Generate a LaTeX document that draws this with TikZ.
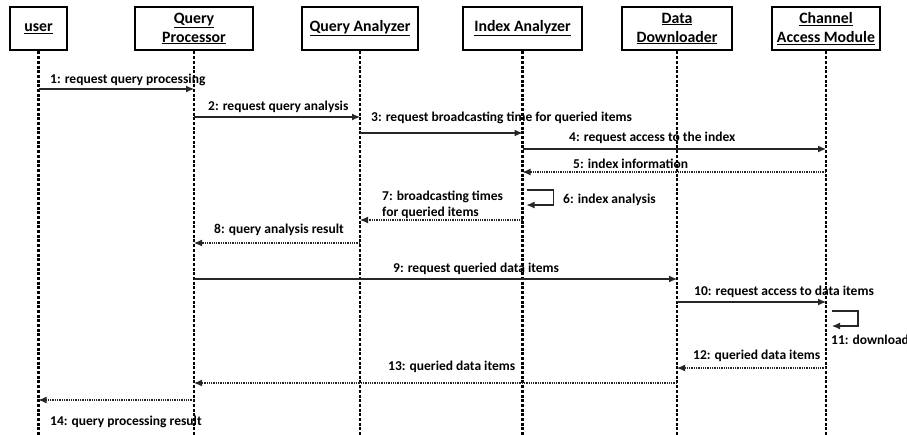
\documentclass[tikz,border=0pt]{standalone}
\usepackage{fontspec}
\setmainfont{Carlito}
\usetikzlibrary{arrows.meta}
\begin{document}
\begin{tikzpicture}[x=1pt,y=-1pt,
  actor/.style={draw=black,line width=2.8pt,minimum height=43pt,inner sep=1pt,
    align=center,font=\bfseries\fontsize{15.8}{19}\selectfont},
  lifeline/.style={line width=2.6pt,dash pattern=on 3pt off 1.7pt},
  msg/.style={draw=black!85,line width=1.1pt,-{Latex[length=8pt,width=7pt]}},
  ret/.style={msg,dash pattern=on 1.3pt off 1pt},
  lbl/.style={anchor=west,inner sep=0pt,align=left,text height=9.5pt,text depth=3pt,
    font=\bfseries\fontsize{13.5}{16.5}\selectfont}]
  \useasboundingbox (0,0) rectangle (907,434);
  \clip (0,0) rectangle (907,434);

  % participants
  \node[actor,minimum width=57pt]  (user) at (38.5,28.5) {\underline{user}};
  \node[actor,minimum width=118pt] (qp)   at (194,28.5)  {\underline{Query}\\\underline{Processor}};
  \node[actor,minimum width=116pt] (qa)   at (360,28.5)  {\underline{Query Analyzer}};
  \node[actor,minimum width=119pt] (ia)   at (522.5,28.5){\underline{Index Analyzer}};
  \node[actor,minimum width=110pt] (dd)   at (677,28.5)  {\underline{Data}\\\underline{Downloader}};
  \node[actor,minimum width=108pt] (cam)  at (826,28.5)  {\underline{Channel}\\\underline{Access Module}};

  % lifelines
  \foreach \p in {user,qp,qa,ia,dd,cam}
    \draw[lifeline] (\p.south) -- (\p |- 0,436);

  % messages
  \draw[msg] (user |- 0,89)  -- (qp |- 0,89);
  \node[lbl] (l1) at (50,80) {1: request query processing};

  \draw[msg] (qp |- 0,117) -- (qa |- 0,117);
  \node[lbl] (l2) at (208,107) {2: request query analysis};

  \draw[msg] (qa |- 0,133) -- (ia |- 0,133);
  \node[lbl] (l3) at (371,118) {3: request broadcasting time for queried items};

  \draw[msg] (ia |- 0,149) -- (cam |- 0,149);
  \node[lbl] (l4) at (569,138) {4: request access to the index};

  \draw[ret] (cam |- 0,172) -- (ia |- 0,172);
  \node[lbl] (l5) at (573,165) {5: index information};

  \draw[msg] ([xshift=4pt]ia.center |- 0,190) -- ++(27,0) -- ++(0,15) -- ++(-27,0);
  \node[lbl] (l6) at (563,200) {6: index analysis};

  \draw[ret] (ia |- 0,220) -- (qa |- 0,220);
  \node[lbl,text height=,text depth=] (l7) at (382,205) {7: broadcasting times\\[-1pt]for queried items};

  \draw[ret] (qa |- 0,243) -- (qp |- 0,243);
  \node[lbl] (l8) at (214,230) {8: query analysis result};

  \draw[msg] (qp |- 0,279) -- (dd |- 0,279);
  \node[lbl] (l9) at (393,269) {9: request queried data items};

  \draw[msg] (dd |- 0,302) -- (cam |- 0,302);
  \node[lbl] (l10) at (694,292) {10: request access to data items};

  \draw[msg] ([xshift=6pt]cam.center |- 0,311) -- ++(26,0) -- ++(0,15) -- ++(-26,0);
  \node[lbl] (l11) at (831,341) {11: download};

  \draw[ret] (cam |- 0,368) -- (dd |- 0,368);
  \node[lbl] (l12) at (693,356) {12: queried data items};

  \draw[ret] (dd |- 0,383) -- (qp |- 0,383);
  \node[lbl] (l13) at (388,367) {13: queried data items};

  \draw[ret] (qp |- 0,400) -- (user |- 0,400);
  \node[lbl] (l14) at (50,422) {14: query processing result};
\end{tikzpicture}
\end{document}
